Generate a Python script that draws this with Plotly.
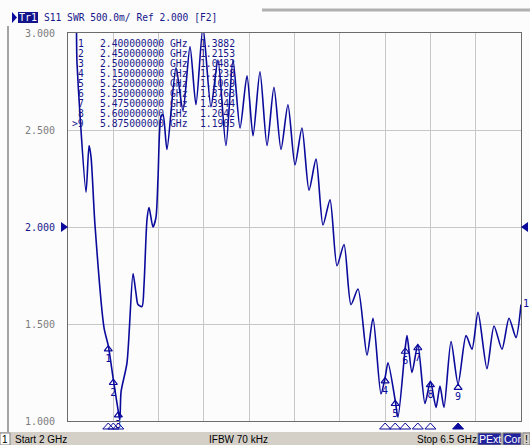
import plotly.graph_objects as go

# ---------------- data ----------------
freq_ghz = [2.000, 2.060, 2.089, 2.119, 2.179, 2.209, 2.229, 2.268, 2.358, 2.400,
            2.450, 2.500, 2.515, 2.527, 2.586, 2.646, 2.675, 2.695, 2.735, 2.755,
            2.785, 2.805, 2.844, 2.874, 2.894, 2.924, 2.944, 2.983, 3.073, 3.142,
            3.212, 3.271, 3.341, 3.420, 3.490, 3.569, 3.639, 3.709, 3.778, 3.838,
            3.907, 3.977, 4.046, 4.116, 4.185, 4.255, 4.324, 4.394, 4.464, 4.533,
            4.603, 4.672, 4.742, 4.811, 4.881, 4.970, 5.030, 5.109, 5.150, 5.179,
            5.250, 5.278, 5.350, 5.368, 5.417, 5.475, 5.546, 5.600, 5.656, 5.695,
            5.735, 5.805, 5.875, 5.954, 6.013, 6.073, 6.162, 6.232, 6.311, 6.381,
            6.450, 6.500]
swr = [3.25, 3.30, 2.85, 2.58, 2.18, 2.42, 2.36, 2.01, 1.48, 1.3882,
       1.2153, 1.0482, 1.005, 1.15, 1.30, 1.76, 1.66, 1.60, 1.59, 1.70,
       2.04, 2.10, 2.00, 2.05, 2.25, 2.57, 2.58, 2.40, 2.82, 2.60,
       2.93, 2.63, 3.03, 2.62, 2.86, 2.42, 2.86, 2.51, 2.78, 2.47,
       2.80, 2.42, 2.72, 2.40, 2.63, 2.32, 2.51, 2.19, 2.35, 2.01,
       2.14, 1.80, 1.91, 1.60, 1.68, 1.34, 1.53, 1.14, 1.2238, 1.30,
       1.1069, 1.02, 1.3763, 1.44, 1.25, 1.3944, 1.09, 1.2042, 1.07, 1.18,
       1.07, 1.41, 1.1905, 1.44, 1.37, 1.56, 1.27, 1.49, 1.37, 1.53,
       1.43, 1.60]

marker_ids = [1, 2, 3, 4, 5, 6, 7, 8, 9]
marker_freq = [2.400, 2.450, 2.500, 5.150, 5.250, 5.350, 5.475, 5.600, 5.875]
marker_swr = [1.3882, 1.2153, 1.0482, 1.2238, 1.1069, 1.3763, 1.3944, 1.2042, 1.1905]
active_marker = 9

y_ticks = [1.0, 1.5, 2.0, 2.5, 3.0]
y_tick_labels = ["1.000", "1.500", "2.000", "2.500", "3.000"]
ref_level = 2.0
f_start, f_stop = 2.0, 6.5
swr_min, swr_max = 1.0, 3.0
x_divisions = 10

title_text = "S11 SWR 500.0m/ Ref 2.000 [F2]"
trace_tag = "Tr1"
status_start = "Start 2 GHz"
status_ifbw = "IFBW 70 kHz"
status_stop = "Stop 6.5 GHz"

# ---------------- layout geometry ----------------
W, H = 530, 445
L, R, T, B = 68, 9, 33, 24
PW, PH = W - L - R, H - T - B
BOTTOM = H - B

def X(px):
    return (px - L) / PW

def Y(py):
    return (BOTTOM - py) / PH

v_per_px = (swr_max - swr_min) / PH
f_per_px = (f_stop - f_start) / PW

BLUE = "#0a0a9c"
TXT_BLUE = "#16168a"
GRAY_TXT = "#7c7c7c"
MONO = "DejaVu Sans Mono"
SANS = "Liberation Sans"

fig = go.Figure()

# main trace
fig.add_trace(go.Scatter(
    x=freq_ghz, y=swr, mode="lines",
    line=dict(color=BLUE, width=1.6, shape="spline", smoothing=0.7),
    hoverinfo="skip"))

# markers on the trace
fig.add_trace(go.Scatter(
    x=marker_freq, y=[v - 3.5 * v_per_px for v in marker_swr],
    mode="markers+text",
    marker=dict(symbol="triangle-up-open", size=7, color=BLUE, line=dict(width=1.2, color=BLUE)),
    text=[str(m) for m in marker_ids], textposition="bottom center",
    textfont=dict(family=MONO, size=10, color=BLUE),
    cliponaxis=False, hoverinfo="skip"))

ticktext = [f"<span style='color:{TXT_BLUE}'>{t}</span>" if v == ref_level else t
            for v, t in zip(y_ticks, y_tick_labels)]

fig.update_layout(
    width=W, height=H,
    margin=dict(l=L, r=R, t=T, b=B, pad=0),
    paper_bgcolor="#fcfcfc", plot_bgcolor="#fcfcfc",
    showlegend=False,
    xaxis=dict(range=[f_start, f_stop], tick0=f_start, dtick=(f_stop - f_start) / x_divisions,
               showticklabels=False, ticks="", showgrid=True, gridcolor="#c8c8c8", gridwidth=1,
               zeroline=False, showline=True, linecolor="#6c6c6c", linewidth=1, mirror=True,
               fixedrange=True),
    yaxis=dict(range=[swr_min, swr_max], tickvals=y_ticks, ticktext=ticktext,
               tickfont=dict(family=MONO, size=10, color=GRAY_TXT),
               ticks="outside", ticklen=10, tickcolor="rgba(0,0,0,0)",
               showgrid=True, gridcolor="#c8c8c8", gridwidth=1,
               zeroline=False, showline=True, linecolor="#6c6c6c", linewidth=1, mirror=True,
               fixedrange=True),
)

shapes = []
ann = []

# marker indicators below the grid (x in data units, y in paper units)
half_w = 5.5 * f_per_px
for m, f in zip(marker_ids, marker_freq):
    filled = (m == active_marker)
    shapes.append(dict(type="path", xref="x", yref="paper", layer="above",
                       path=f"M {f - half_w},{Y(429)} L {f},{Y(423)} L {f + half_w},{Y(429)} Z",
                       fillcolor=BLUE if filled else "rgba(0,0,0,0)",
                       line=dict(color=BLUE, width=1)))

# reference level arrows (x in paper units, y in data units)
dv = 5 * v_per_px
shapes.append(dict(type="path", xref="paper", yref="y", layer="above",
                   path=f"M {X(61)},{ref_level + dv} L {X(68)},{ref_level} L {X(61)},{ref_level - dv} Z",
                   fillcolor=BLUE, line=dict(width=0)))
shapes.append(dict(type="path", xref="paper", yref="y", layer="above",
                   path=f"M {X(528)},{ref_level + dv} L {X(521)},{ref_level} L {X(528)},{ref_level - dv} Z",
                   fillcolor=BLUE, line=dict(width=0)))

# left window border and top tab line
shapes.append(dict(type="line", xref="paper", yref="paper", x0=X(8), x1=X(8), y0=Y(26), y1=Y(432),
                   line=dict(color="#a4a4a4", width=2)))
shapes.append(dict(type="line", xref="paper", yref="paper", x0=X(262), x1=X(530), y0=Y(10), y1=Y(10),
                   line=dict(color="#b0b0b0", width=3)))

# title line
shapes.append(dict(type="path", xref="paper", yref="paper",
                   path=f"M {X(12)},{Y(12)} L {X(17)},{Y(17.5)} L {X(12)},{Y(23)} Z",
                   fillcolor=BLUE, line=dict(width=0)))
shapes.append(dict(type="rect", xref="paper", yref="paper", x0=X(18), x1=X(38), y0=Y(12), y1=Y(23),
                   fillcolor="#14148c", line=dict(width=0)))
ann.append(dict(x=X(28), y=Y(17.5), xref="paper", yref="paper", text=trace_tag, showarrow=False,
                xanchor="center", yanchor="middle", font=dict(family=MONO, size=10, color="white")))
ann.append(dict(x=X(42), y=Y(17.5), xref="paper", yref="paper", text=title_text, showarrow=False,
                xanchor="left", yanchor="middle", font=dict(family=MONO, size=9.6, color=TXT_BLUE)))

# marker table
for i, (m, f, v) in enumerate(zip(marker_ids, marker_freq, marker_swr)):
    yy = Y(43.5 + 10 * i)
    lab = (">" if m == active_marker else "") + str(m)
    for xp, txt, anc in [(85.5, lab, "right"), (98, f"{f:.9f}", "left"),
                         (168, "GHz", "left"), (197.5, f"{v:.4f}", "left")]:
        ann.append(dict(x=X(xp), y=yy, xref="paper", yref="paper", text=txt, showarrow=False,
                        xanchor=anc, yanchor="middle",
                        font=dict(family=MONO, size=9.7, color=TXT_BLUE)))

# trace number at the end of the trace
ann.append(dict(x=X(521), y=Y(303), xref="paper", yref="paper", text="1", showarrow=False,
                xanchor="left", yanchor="middle", font=dict(family=MONO, size=10, color=BLUE)))

# status bar
shapes.append(dict(type="rect", xref="paper", yref="paper", x0=X(0), x1=X(530), y0=Y(432), y1=Y(445),
                   fillcolor="#d4d0c8", line=dict(width=0)))
shapes.append(dict(type="rect", xref="paper", yref="paper", x0=X(0), x1=X(10), y0=Y(433), y1=Y(445),
                   fillcolor="#ffffff", line=dict(color="#808080", width=1)))
ann.append(dict(x=X(5), y=Y(439), xref="paper", yref="paper", text="1", showarrow=False,
                xanchor="center", yanchor="middle", font=dict(family=SANS, size=10, color="black")))
for xp, txt in [(13, status_start), (207, status_ifbw), (415, status_stop)]:
    ann.append(dict(x=X(xp), y=Y(439), xref="paper", yref="paper", text=txt, showarrow=False,
                    xanchor="left", yanchor="middle", font=dict(family=SANS, size=10, color="black")))
for x0, x1, txt, bg, fg in [(478, 501, "PExt", "#22229c", "white"),
                            (503, 521, "Cor", "#22229c", "white"),
                            (523, 530, "!", "#d4d0c8", "black")]:
    shapes.append(dict(type="rect", xref="paper", yref="paper", x0=X(x0), x1=X(x1), y0=Y(433), y1=Y(445),
                       fillcolor=bg, line=dict(color="#808080", width=1)))
    ann.append(dict(x=X((x0 + x1) / 2), y=Y(439), xref="paper", yref="paper", text=txt, showarrow=False,
                    xanchor="center", yanchor="middle", font=dict(family=SANS, size=10.5, color=fg)))

fig.update_layout(shapes=shapes, annotations=ann)
fig.write_html("out.html", config={"displayModeBar": False, "staticPlot": True},
               post_script="document.body.style.margin='0';document.body.style.padding='0';"
                           "document.body.style.overflow='hidden';")
